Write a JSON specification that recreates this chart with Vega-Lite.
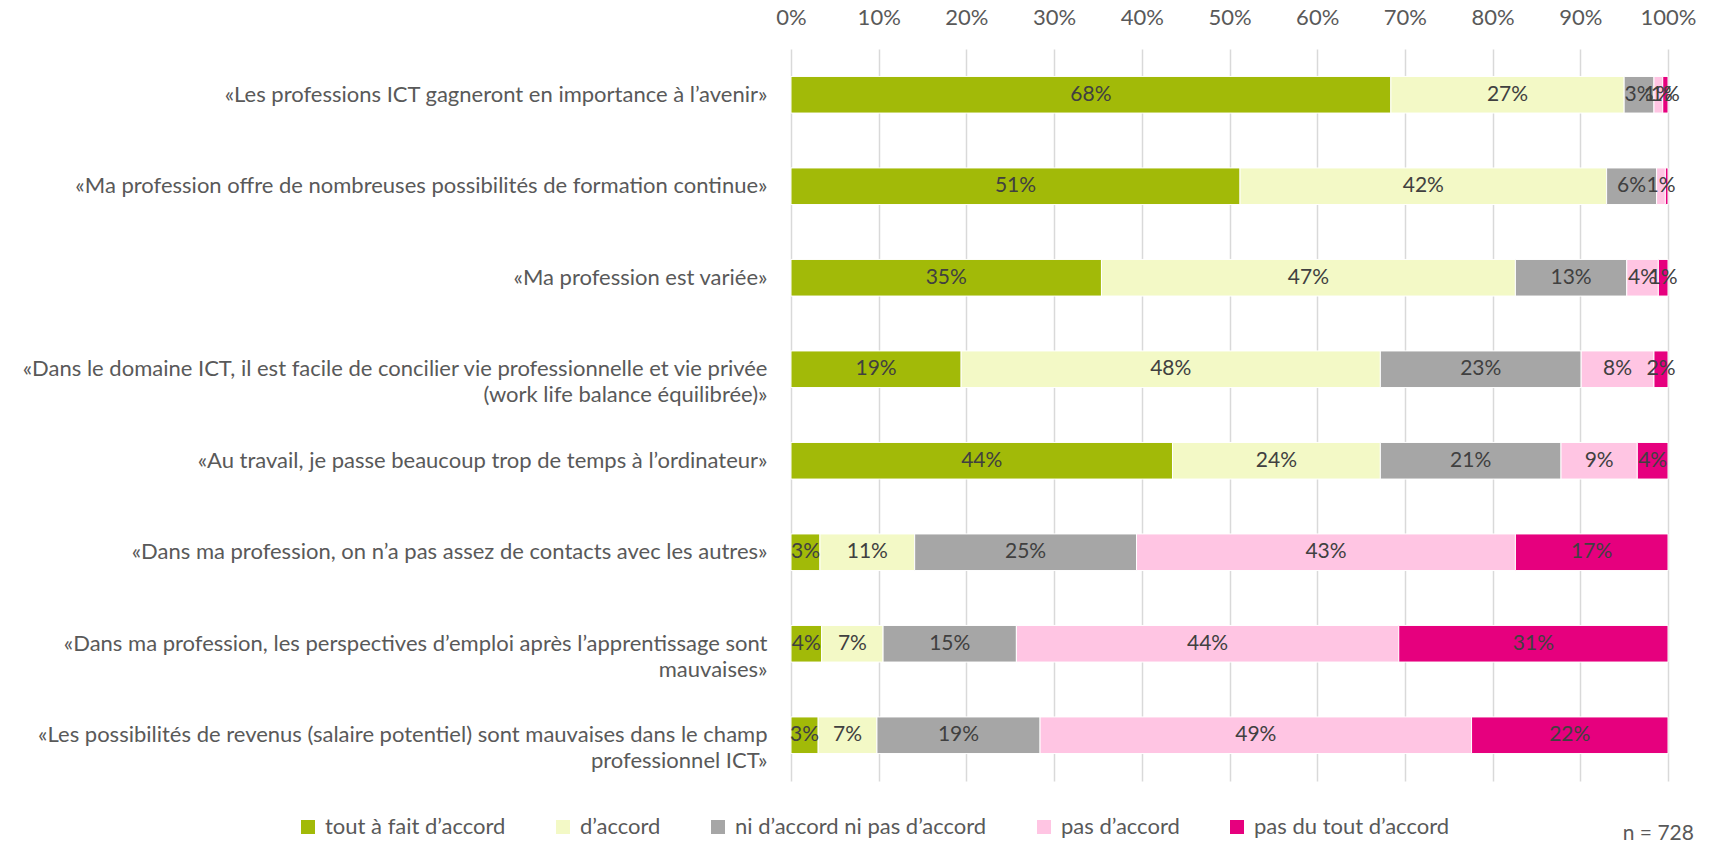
{
  "$schema": "https://vega.github.io/schema/vega-lite/v6.json",
  "width": 877,
  "height": 732,
  "autosize": "none",
  "padding": {"left": 791, "top": 49, "right": 41, "bottom": 64},
  "background": "white",
  "config": {
    "font": "Lato",
    "view": {"stroke": null},
    "axis": {"labelFont": "Lato", "labelColor": "#595959", "labelFontSize": 22},
    "legend": {"labelFont": "Lato", "labelColor": "#595959", "labelFontSize": 22},
    "title": {"font": "Lato", "color": "#595959", "fontSize": 21, "fontWeight": "normal"}
  },
  "title": {"text": "n = 728", "orient": "bottom", "anchor": "end", "offset": -15, "dx": -2},
  "data": {
    "values": [
      {"q": "«Les professions ICT gagneront en importance à l’avenir»", "r": "tout à fait d’accord", "o": 1, "v": 0.684},
      {"q": "«Les professions ICT gagneront en importance à l’avenir»", "r": "d’accord", "o": 2, "v": 0.266},
      {"q": "«Les professions ICT gagneront en importance à l’avenir»", "r": "ni d’accord ni pas d’accord", "o": 3, "v": 0.034},
      {"q": "«Les professions ICT gagneront en importance à l’avenir»", "r": "pas d’accord", "o": 4, "v": 0.010},
      {"q": "«Les professions ICT gagneront en importance à l’avenir»", "r": "pas du tout d’accord", "o": 5, "v": 0.006},
      {"q": "«Ma profession offre de nombreuses possibilités de formation continue»", "r": "tout à fait d’accord", "o": 1, "v": 0.512},
      {"q": "«Ma profession offre de nombreuses possibilités de formation continue»", "r": "d’accord", "o": 2, "v": 0.418},
      {"q": "«Ma profession offre de nombreuses possibilités de formation continue»", "r": "ni d’accord ni pas d’accord", "o": 3, "v": 0.057},
      {"q": "«Ma profession offre de nombreuses possibilités de formation continue»", "r": "pas d’accord", "o": 4, "v": 0.010},
      {"q": "«Ma profession offre de nombreuses possibilités de formation continue»", "r": "pas du tout d’accord", "o": 5, "v": 0.003},
      {"q": "«Ma profession est variée»", "r": "tout à fait d’accord", "o": 1, "v": 0.354},
      {"q": "«Ma profession est variée»", "r": "d’accord", "o": 2, "v": 0.472},
      {"q": "«Ma profession est variée»", "r": "ni d’accord ni pas d’accord", "o": 3, "v": 0.127},
      {"q": "«Ma profession est variée»", "r": "pas d’accord", "o": 4, "v": 0.036},
      {"q": "«Ma profession est variée»", "r": "pas du tout d’accord", "o": 5, "v": 0.011},
      {"q": "«Dans le domaine ICT, il est facile de concilier vie professionnelle et vie privée|(work life balance équilibrée)»", "r": "tout à fait d’accord", "o": 1, "v": 0.194},
      {"q": "«Dans le domaine ICT, il est facile de concilier vie professionnelle et vie privée|(work life balance équilibrée)»", "r": "d’accord", "o": 2, "v": 0.478},
      {"q": "«Dans le domaine ICT, il est facile de concilier vie professionnelle et vie privée|(work life balance équilibrée)»", "r": "ni d’accord ni pas d’accord", "o": 3, "v": 0.229},
      {"q": "«Dans le domaine ICT, il est facile de concilier vie professionnelle et vie privée|(work life balance équilibrée)»", "r": "pas d’accord", "o": 4, "v": 0.083},
      {"q": "«Dans le domaine ICT, il est facile de concilier vie professionnelle et vie privée|(work life balance équilibrée)»", "r": "pas du tout d’accord", "o": 5, "v": 0.016},
      {"q": "«Au travail, je passe beaucoup trop de temps à l’ordinateur»", "r": "tout à fait d’accord", "o": 1, "v": 0.435},
      {"q": "«Au travail, je passe beaucoup trop de temps à l’ordinateur»", "r": "d’accord", "o": 2, "v": 0.237},
      {"q": "«Au travail, je passe beaucoup trop de temps à l’ordinateur»", "r": "ni d’accord ni pas d’accord", "o": 3, "v": 0.206},
      {"q": "«Au travail, je passe beaucoup trop de temps à l’ordinateur»", "r": "pas d’accord", "o": 4, "v": 0.087},
      {"q": "«Au travail, je passe beaucoup trop de temps à l’ordinateur»", "r": "pas du tout d’accord", "o": 5, "v": 0.035},
      {"q": "«Dans ma profession, on n’a pas assez de contacts avec les autres»", "r": "tout à fait d’accord", "o": 1, "v": 0.033},
      {"q": "«Dans ma profession, on n’a pas assez de contacts avec les autres»", "r": "d’accord", "o": 2, "v": 0.108},
      {"q": "«Dans ma profession, on n’a pas assez de contacts avec les autres»", "r": "ni d’accord ni pas d’accord", "o": 3, "v": 0.253},
      {"q": "«Dans ma profession, on n’a pas assez de contacts avec les autres»", "r": "pas d’accord", "o": 4, "v": 0.432},
      {"q": "«Dans ma profession, on n’a pas assez de contacts avec les autres»", "r": "pas du tout d’accord", "o": 5, "v": 0.174},
      {"q": "«Dans ma profession, les perspectives d’emploi après l’apprentissage sont|mauvaises»", "r": "tout à fait d’accord", "o": 1, "v": 0.035},
      {"q": "«Dans ma profession, les perspectives d’emploi après l’apprentissage sont|mauvaises»", "r": "d’accord", "o": 2, "v": 0.070},
      {"q": "«Dans ma profession, les perspectives d’emploi après l’apprentissage sont|mauvaises»", "r": "ni d’accord ni pas d’accord", "o": 3, "v": 0.152},
      {"q": "«Dans ma profession, les perspectives d’emploi après l’apprentissage sont|mauvaises»", "r": "pas d’accord", "o": 4, "v": 0.436},
      {"q": "«Dans ma profession, les perspectives d’emploi après l’apprentissage sont|mauvaises»", "r": "pas du tout d’accord", "o": 5, "v": 0.307},
      {"q": "«Les possibilités de revenus (salaire potentiel) sont mauvaises dans le champ|professionnel ICT»", "r": "tout à fait d’accord", "o": 1, "v": 0.031},
      {"q": "«Les possibilités de revenus (salaire potentiel) sont mauvaises dans le champ|professionnel ICT»", "r": "d’accord", "o": 2, "v": 0.067},
      {"q": "«Les possibilités de revenus (salaire potentiel) sont mauvaises dans le champ|professionnel ICT»", "r": "ni d’accord ni pas d’accord", "o": 3, "v": 0.186},
      {"q": "«Les possibilités de revenus (salaire potentiel) sont mauvaises dans le champ|professionnel ICT»", "r": "pas d’accord", "o": 4, "v": 0.492},
      {"q": "«Les possibilités de revenus (salaire potentiel) sont mauvaises dans le champ|professionnel ICT»", "r": "pas du tout d’accord", "o": 5, "v": 0.224}
    ]
  },
  "transform": [
    {"stack": "v", "groupby": ["q"], "sort": [{"field": "o", "order": "ascending"}], "as": ["v0", "v1"]},
    {"calculate": "(datum.v0 + datum.v1) / 2", "as": "mid"}
  ],
  "encoding": {
    "y": {
      "field": "q", "type": "nominal", "sort": null, "title": null,
      "scale": {"paddingInner": 0.6, "paddingOuter": 0.3},
      "axis": {"domain": false, "ticks": false, "labelPadding": 24, "labelLimit": 800, "labelLineHeight": 26, "labelExpr": "split(datum.value, '|')"}
    }
  },
  "layer": [
    {
      "mark": {"type": "bar", "stroke": "white", "strokeWidth": 1},
      "encoding": {
        "x": {
          "field": "v0", "type": "quantitative", "title": null,
          "scale": {"domain": [0, 1], "nice": false, "zero": true},
          "axis": {"orient": "top", "format": ".0%", "values": [0, 0.1, 0.2, 0.3, 0.4, 0.5, 0.6, 0.7, 0.8, 0.9, 1], "domain": false, "ticks": false, "labelPadding": 20, "grid": true, "gridColor": "#D9D9D9", "gridWidth": 1.5, "labelFlush": false}
        },
        "x2": {"field": "v1"},
        "color": {
          "field": "r", "type": "nominal", "title": null,
          "scale": {
            "domain": ["tout à fait d’accord", "d’accord", "ni d’accord ni pas d’accord", "pas d’accord", "pas du tout d’accord"],
            "range": ["#A2BA08", "#F3F9C6", "#A6A6A6", "#FFC5E3", "#E6007E"]
          },
          "legend": {
            "orient": "none", "legendX": -494, "legendY": 767, "direction": "horizontal",
            "symbolType": "square", "symbolSize": 196, "symbolStrokeWidth": 0, "symbolOpacity": 1,
            "columnPadding": 46, "labelOffset": 6, "labelLimit": 400
          }
        }
      }
    },
    {
      "transform": [{"filter": "datum.v >= 0.005"}],
      "mark": {"type": "text", "color": "#404040", "fontSize": 21, "font": "Lato", "baseline": "middle", "align": "center"},
      "encoding": {
        "x": {"field": "mid", "type": "quantitative"},
        "text": {"field": "v", "type": "quantitative", "format": ".0%"}
      }
    }
  ]
}
